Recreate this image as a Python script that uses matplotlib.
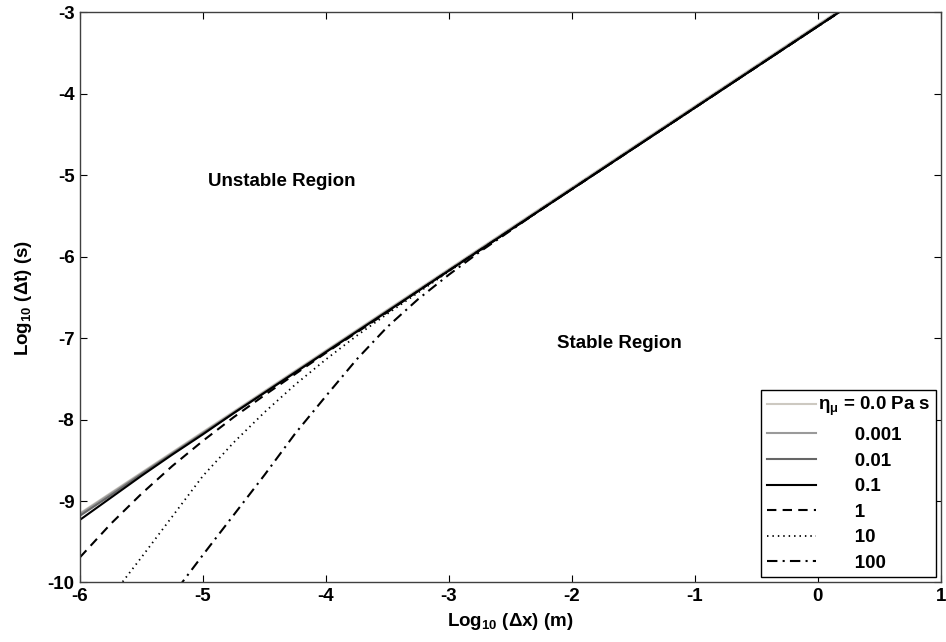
import matplotlib
matplotlib.use("Agg")
import matplotlib.pyplot as plt

plt.rcParams['font.family'] = ['Liberation Sans', 'DejaVu Sans']
plt.rcParams['font.weight'] = 'bold'
plt.rcParams['axes.labelweight'] = 'bold'
plt.rcParams['font.size'] = 13.5
plt.rcParams['axes.unicode_minus'] = False
plt.rcParams['mathtext.fontset'] = 'custom'
plt.rcParams['mathtext.rm'] = 'Liberation Sans:bold'
plt.rcParams['mathtext.it'] = 'Liberation Sans:bold'
plt.rcParams['mathtext.bf'] = 'Liberation Sans:bold'

# log10(dx), read every 0.25
log_dx = [-6.0, -5.75, -5.5, -5.25, -5.0, -4.75, -4.5, -4.25, -4.0, -3.75, -3.5, -3.25,
          -3.0, -2.75, -2.5, -2.25, -2.0, -1.75, -1.5, -1.25, -1.0, -0.75, -0.5, -0.25,
          0.0, 0.25]

# log10(dt) for each viscosity
dt_0 = [-9.15, -8.90, -8.65, -8.40, -8.15, -7.90, -7.65, -7.40, -7.15, -6.90, -6.65, -6.40,
        -6.15, -5.90, -5.65, -5.40, -5.15, -4.90, -4.65, -4.40, -4.15, -3.90, -3.65, -3.40,
        -3.15, -2.90]
dt_0001 = [-9.16, -8.91, -8.66, -8.41, -8.16, -7.91, -7.66, -7.41, -7.16, -6.91, -6.66, -6.41,
           -6.16, -5.91, -5.66, -5.41, -5.16, -4.91, -4.66, -4.41, -4.16, -3.91, -3.66, -3.41,
           -3.16, -2.91]
dt_001 = [-9.18, -8.93, -8.67, -8.42, -8.17, -7.92, -7.67, -7.42, -7.17, -6.92, -6.67, -6.42,
          -6.17, -5.92, -5.67, -5.42, -5.17, -4.92, -4.67, -4.42, -4.17, -3.92, -3.67, -3.42,
          -3.17, -2.92]
dt_01 = [-9.23, -8.96, -8.69, -8.43, -8.18, -7.92, -7.67, -7.42, -7.17, -6.92, -6.67, -6.42,
         -6.17, -5.92, -5.67, -5.42, -5.17, -4.92, -4.67, -4.42, -4.17, -3.92, -3.67, -3.42,
         -3.17, -2.92]
dt_1 = [-9.69, -9.28, -8.91, -8.57, -8.26, -7.97, -7.70, -7.44, -7.18, -6.93, -6.68, -6.42,
        -6.17, -5.92, -5.67, -5.42, -5.17, -4.92, -4.67, -4.42, -4.17, -3.92, -3.67, -3.42,
        -3.17, -2.92]
dt_10 = [-10.68, -10.18, -9.69, -9.19, -8.69, -8.28, -7.91, -7.57, -7.26, -6.97, -6.70, -6.44,
         -6.18, -5.93, -5.67, -5.42, -5.17, -4.92, -4.67, -4.42, -4.17, -3.92, -3.67, -3.42,
         -3.17, -2.92]
dt_100 = [-11.66, -11.16, -10.66, -10.16, -9.66, -9.17, -8.68, -8.17, -7.71, -7.26, -6.86, -6.52,
          -6.22, -5.94, -5.68, -5.42, -5.17, -4.92, -4.67, -4.42, -4.17, -3.92, -3.67, -3.42,
          -3.17, -2.92]

labels = [r'η$_{μ}$ = 0.0 Pa s', '       0.001', '       0.01', '       0.1',
          '       1', '       10', '       100']

fig = plt.figure(figsize=(9.46, 6.42), dpi=100)
ax = fig.add_axes([0.0846, 0.0927, 0.91, 0.888])

ax.plot(log_dx, dt_0, color='#cdc9c1', lw=1.5, label=labels[0])
ax.plot(log_dx, dt_0001, color='#9a9a9a', lw=1.5, label=labels[1])
ax.plot(log_dx, dt_001, color='#666666', lw=1.5, label=labels[2])
ax.plot(log_dx, dt_01, color='black', lw=1.5, label=labels[3])
ax.plot(log_dx, dt_1, color='black', lw=1.5, dashes=(4.5, 3), label=labels[4])
ax.plot(log_dx, dt_10, color='black', lw=1.3, ls=(0, (0.8, 2.2)), label=labels[5])
ax.plot(log_dx, dt_100, color='black', lw=1.5, ls=(0, (5, 2.5, 1, 2.5)), label=labels[6])

ax.set_xlim(-6, 1)
ax.set_ylim(-10, -3)
ax.set_xticks(range(-6, 2))
ax.set_yticks(range(-10, -2))
ax.tick_params(direction='in', top=True, right=True, length=5, width=0.8, pad=4)
for s in ax.spines.values():
    s.set_color('#404040')
    s.set_linewidth(1)

ax.set_xlabel(r'Log$_{10}$ (Δx) (m)', labelpad=4)
ax.set_ylabel(r'Log$_{10}$ (Δt) (s)', labelpad=10)

ax.text(-4.96, -5.08, 'Unstable Region', va='center')
ax.text(-2.12, -7.07, 'Stable Region', va='center')

leg = ax.legend(loc='lower right', fancybox=False, framealpha=1, edgecolor='black',
                borderaxespad=0.27, handlelength=2.6, handletextpad=0.1,
                labelspacing=0.45, borderpad=0.3)
leg.get_frame().set_linewidth(1)

fig.savefig('out.png', dpi=100)
